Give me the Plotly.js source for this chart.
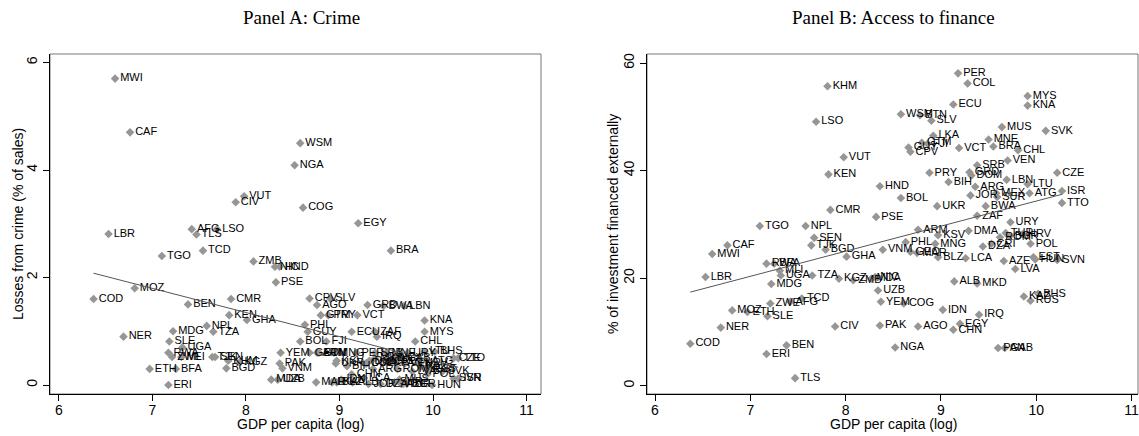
<!DOCTYPE html>
<html><head><meta charset="utf-8">
<script src="https://cdn.plot.ly/plotly-3.0.1.min.js"></script>
<style>html,body{margin:0;padding:0;background:#fff}#chart{width:1139px;height:436px}</style>
</head><body><div id="chart"></div>
<script>
const countries = ["MWI","CAF","LBR","COD","MOZ","NER","ETH","ERI","TGO","MDG","SLE","RWA","ZWE","MLI","UGA","BFA","BEN","AFG","TLS","TCD","NPL","TZA","LSO","TJK","SEN","BGD","KHM","KEN","CMR","CIV","KGZ","VUT","GHA","ZMB","NIC","MDA","HND","PSE","PAK","VNM","UZB","YEM","GEO","BOL","WSM","NGA","COG","PHL","GUY","CPV","AGO","ARM","MAR","BTN","GTM","FJI","PRY","SLV","LKA","MNG","UKR","KSV","BLZ","IDN","BIH","ECU","CHN","ALB","PER","VCT","EGY","LCA","COL","DMA","GRD","JOR","DOM","ARG","SRB","ZAF","MKD","IRQ","DZA","BWA","MNE","CRI","BRA","MEX","SUR","PAN","ROM","MUS","AZE","GAB","TUR","LBN","VEN","BGR","URY","LVA","CHL","HRV","KAZ","MYS","KNA","LTU","ATG","POL","RUS","EST","HUN","BHS","SVK","SVN","CZE","ISR","TTO"];
const gdp = [6.60,6.76,6.53,6.37,6.81,6.69,6.97,7.17,7.10,7.22,7.18,7.17,7.21,7.31,7.32,7.25,7.38,7.42,7.47,7.54,7.58,7.65,7.69,7.64,7.67,7.79,7.81,7.82,7.84,7.89,7.93,7.98,8.01,8.08,8.31,8.27,8.36,8.32,8.36,8.39,8.34,8.37,8.68,8.58,8.58,8.52,8.61,8.63,8.66,8.68,8.76,8.76,8.75,8.78,8.80,8.86,8.88,8.90,8.92,8.94,8.96,8.97,8.97,9.02,9.08,9.13,9.13,9.14,9.18,9.19,9.20,9.26,9.28,9.29,9.30,9.31,9.32,9.36,9.38,9.38,9.38,9.40,9.44,9.47,9.50,9.53,9.55,9.58,9.59,9.60,9.62,9.64,9.66,9.67,9.68,9.69,9.70,9.72,9.73,9.78,9.81,9.86,9.87,9.91,9.91,9.91,9.93,9.94,9.94,9.97,9.99,10.02,10.10,10.22,10.22,10.27,10.27];
const crime = [5.70,4.70,2.81,1.60,1.80,0.90,0.30,0.00,2.40,1.00,0.81,0.60,0.52,0.52,0.70,0.30,1.50,2.90,2.80,2.50,1.10,0.99,2.90,0.52,0.52,0.31,0.45,1.30,1.60,3.40,0.42,3.51,1.21,2.30,2.20,0.10,2.20,1.91,0.40,0.31,0.10,0.60,0.60,0.81,4.50,4.09,3.30,1.12,0.99,1.61,1.49,0.60,0.05,0.60,1.30,0.81,1.30,1.61,0.05,0.60,0.40,0.45,0.05,0.10,0.35,0.99,0.20,0.05,0.60,1.30,3.01,0.13,0.40,0.40,1.49,0.02,0.45,0.30,0.60,0.99,0.50,0.90,0.02,1.47,0.60,0.45,2.50,0.50,0.05,0.40,0.30,0.10,0.02,0.50,0.02,1.47,0.40,0.02,0.60,0.25,0.81,0.40,0.35,0.99,1.20,0.62,0.45,0.20,0.30,0.30,0.00,0.62,0.25,0.12,0.50,0.12,0.50];
const finance = [24.5,26.1,20.2,7.8,14.0,10.8,13.7,5.9,29.7,18.9,12.9,22.7,15.3,21.4,20.5,22.7,7.5,15.6,1.4,16.2,29.7,20.5,49.1,26.1,27.5,25.3,55.7,39.3,32.7,11.0,19.9,42.5,24.0,19.6,20.2,19.9,37.1,31.4,11.2,25.3,17.7,15.6,24.9,34.9,50.5,7.1,15.3,26.7,44.3,43.5,11.0,29.0,24.7,50.3,45.2,45.0,39.6,49.3,46.5,26.4,33.4,28.0,23.9,14.1,37.9,52.3,10.4,19.4,58.1,44.2,11.5,23.7,56.2,28.8,39.7,35.4,39.1,37.0,41.0,31.6,19.0,13.2,25.9,33.4,45.8,26.4,44.5,35.8,35.1,7.0,27.6,48.1,23.2,7.0,28.4,38.3,41.9,27.8,30.4,21.7,43.8,28.2,16.6,53.9,52.1,37.5,35.8,26.4,15.8,23.9,23.5,17.1,47.4,23.4,39.6,36.2,34.0];
const fitCrimeX = [6.37, 10.27];
const fitCrimeY = [2.08, 0.33];
const fitFinX = [6.37, 10.27];
const fitFinY = [17.4, 35.6];
const xTicks = [6,7,8,9,10,11];
const crimeTicks = [0,2,4,6];
const finTicks = [0,20,40,60];
const panelTitles = ["Panel A: Crime", "Panel B: Access to finance"];
const xTitle = "GDP per capita (log)";
const yTitles = ["Losses from crime (% of sales)", "% of investment financed externally"];

const W = 1139, H = 436;
const fx = p => p / W, fy = p => (H - p) / H;
const sans = "Liberation Sans, Arial, Helvetica, sans-serif";
const mk = {symbol: 'diamond', size: 6.6, color: '#969696', line: {width: 0}};
const tf = {family: sans, size: 11, color: '#000'};

const traces = [
  {x: gdp, y: crime, text: countries, mode: 'markers+text', textposition: 'middle right', marker: mk, textfont: tf, xaxis: 'x', yaxis: 'y', hoverinfo: 'skip'},
  {x: fitCrimeX, y: fitCrimeY, mode: 'lines', line: {color: '#555', width: 1}, xaxis: 'x', yaxis: 'y', hoverinfo: 'skip'},
  {x: gdp, y: finance, text: countries, mode: 'markers+text', textposition: 'middle right', marker: mk, textfont: tf, xaxis: 'x2', yaxis: 'y2', hoverinfo: 'skip'},
  {x: fitFinX, y: fitFinY, mode: 'lines', line: {color: '#555', width: 1}, xaxis: 'x2', yaxis: 'y2', hoverinfo: 'skip'}
];

const ax = {showline: true, linecolor: '#000', linewidth: 1, ticks: 'outside', ticklen: 6, tickcolor: '#000', tickwidth: 1,
  showgrid: false, zeroline: false, tickfont: {family: sans, size: 14, color: '#000'}, tickmode: 'array', automargin: false, fixedrange: true};
const yd = [fy(394), fy(54)];

const layout = {
  width: W, height: H, margin: {l: 0, r: 0, t: 0, b: 0}, showlegend: false,
  paper_bgcolor: '#fff', plot_bgcolor: '#fff',
  xaxis: Object.assign({}, ax, {domain: [fx(50), fx(541)], range: [5.904, 11.155], tickvals: xTicks, anchor: 'y', ticklabelstandoff: -3}),
  yaxis: Object.assign({}, ax, {domain: yd, range: [-0.167, 6.158], tickvals: crimeTicks, tickangle: -90, anchor: 'x'}),
  xaxis2: Object.assign({}, ax, {domain: [fx(647), fx(1138)], range: [5.916, 11.068], tickvals: xTicks, anchor: 'y2', ticklabelstandoff: -3}),
  yaxis2: Object.assign({}, ax, {domain: yd, range: [-1.55, 61.7], tickvals: finTicks, tickangle: -90, anchor: 'x2'}),
  shapes: [
    {type: 'rect', xref: 'x domain', yref: 'y domain', x0: 0, x1: 1, y0: 0, y1: 1, line: {color: '#777', width: 1}, layer: 'below'},
    {type: 'rect', xref: 'x2 domain', yref: 'y2 domain', x0: 0, x1: 1, y0: 0, y1: 1, line: {color: '#777', width: 1}, layer: 'below'}
  ],
  annotations: [
    {text: panelTitles[0], xref: 'paper', yref: 'paper', x: fx(301), y: fy(18), showarrow: false, xanchor: 'center', yanchor: 'middle', font: {family: 'Liberation Serif, serif', size: 19, color: '#000'}},
    {text: panelTitles[1], xref: 'paper', yref: 'paper', x: fx(893), y: fy(18), showarrow: false, xanchor: 'center', yanchor: 'middle', font: {family: 'Liberation Serif, serif', size: 19, color: '#000'}},
    {text: xTitle, xref: 'paper', yref: 'paper', x: fx(300), y: fy(424), showarrow: false, xanchor: 'center', yanchor: 'middle', font: {family: sans, size: 14, color: '#000'}},
    {text: xTitle, xref: 'paper', yref: 'paper', x: fx(893), y: fy(424), showarrow: false, xanchor: 'center', yanchor: 'middle', font: {family: sans, size: 14, color: '#000'}},
    {text: yTitles[0], xref: 'paper', yref: 'paper', x: fx(18), y: fy(224), showarrow: false, textangle: -90, xanchor: 'center', yanchor: 'middle', font: {family: sans, size: 14, color: '#000'}},
    {text: yTitles[1], xref: 'paper', yref: 'paper', x: fx(613), y: fy(224), showarrow: false, textangle: -90, xanchor: 'center', yanchor: 'middle', font: {family: sans, size: 14, color: '#000'}}
  ]
};

Plotly.newPlot('chart', traces, layout, {displayModeBar: false, staticPlot: true});
</script>
</body></html>
